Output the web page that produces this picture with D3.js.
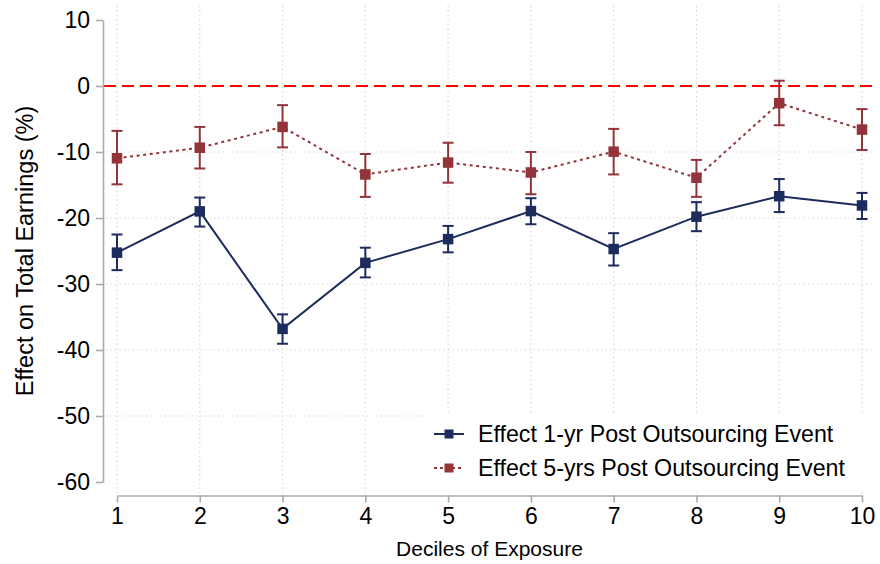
<!DOCTYPE html>
<html>
<head>
<meta charset="utf-8">
<script src="https://cdn.jsdelivr.net/npm/d3@7"></script>
<style>
  html, body { margin: 0; padding: 0; background: #fff; }
  svg { display: block; font-family: "Liberation Sans", Arial, Helvetica, sans-serif; }
</style>
</head>
<body>
<svg id="chart" width="880" height="564"></svg>
<script>
// Deciles of exposure to outsourcing
const deciles = [1, 2, 3, 4, 5, 6, 7, 8, 9, 10];

// Effect 1 year after the outsourcing event (%), with 95% CI bounds
const est1yr = [-25.25, -19.0, -36.8, -26.8, -23.2, -18.95, -24.7, -19.8, -16.7, -18.1];
const lo1yr  = [-27.9, -21.3, -39.05, -29.0, -25.2, -20.95, -27.2, -22.0, -19.1, -20.15];
const hi1yr  = [-22.5, -16.9, -34.6, -24.5, -21.2, -17.0, -22.3, -17.6, -14.1, -16.2];

// Effect 5 years after the outsourcing event (%), with 95% CI bounds
const est5yr = [-10.95, -9.35, -6.2, -13.4, -11.6, -13.1, -9.95, -13.9, -2.6, -6.6];
const lo5yr  = [-14.9, -12.5, -9.3, -16.8, -14.65, -16.4, -13.4, -16.8, -5.95, -9.7];
const hi5yr  = [-6.8, -6.2, -2.9, -10.3, -8.6, -10.0, -6.5, -11.2, 0.8, -3.5];

const yTicks = [10, 0, -10, -20, -30, -40, -50, -60];
const yGrid = [0, -10, -20, -30, -40, -50];

const seriesNames = ["Effect 1-yr Post Outsourcing Event", "Effect 5-yrs Post Outsourcing Event"];

const NAVY = "#1c2c5c";
const MAROON = "#923439";
const AXIS = "#ababab";
const GRID = "#cfcfcf";

const svg = d3.select("#chart");

const x = d3.scaleLinear().domain([1, 10]).range([117, 862]);
const y = d3.scaleLinear().domain([-60, 10]).range([482, 20]);

const plotLeft = 106, plotRight = 876, plotTop = 6, plotBottom = 493;

// Grid
const grid = svg.append("g").attr("class", "grid");
grid.selectAll("line.h").data(yGrid).join("line")
  .attr("x1", plotLeft).attr("x2", plotRight)
  .attr("y1", d => y(d)).attr("y2", d => y(d))
  .attr("stroke", GRID).attr("stroke-width", 1.2)
  .attr("stroke-dasharray", "1.2,3.3");
grid.selectAll("line.v").data(deciles).join("line")
  .attr("x1", d => x(d)).attr("x2", d => x(d))
  .attr("y1", plotTop).attr("y2", plotBottom)
  .attr("stroke", GRID).attr("stroke-width", 1.2)
  .attr("stroke-dasharray", "1.2,3.3");

// Zero reference line
svg.append("line")
  .attr("x1", 104).attr("x2", plotRight)
  .attr("y1", y(0)).attr("y2", y(0))
  .attr("stroke", "#ff0000").attr("stroke-width", 2)
  .attr("stroke-dasharray", "12,6");

// Axes (plain hyphen-minus for negative labels)
const fmt = d => String(d);
const yAxis = d3.axisLeft(y).tickValues(yTicks).tickFormat(fmt).tickSize(7).tickSizeOuter(0).tickPadding(6);
const gy = svg.append("g").attr("transform", "translate(103,0)").call(yAxis);
const xAxis = d3.axisBottom(x).tickValues(deciles).tickFormat(fmt).tickSize(7).tickSizeOuter(0).tickPadding(5);
const gx = svg.append("g").attr("transform", "translate(0,495.5)").call(xAxis);
[gx, gy].forEach(g => {
  g.select(".domain").attr("stroke", AXIS).attr("stroke-width", 1.6);
  g.selectAll(".tick line").attr("stroke", AXIS).attr("stroke-width", 1.6);
  g.selectAll(".tick text").attr("fill", "#000").style("font-size", "23px")
    .style("font-family", "'Liberation Sans', Arial, sans-serif");
});

// Axis titles
svg.append("text")
  .attr("transform", `translate(33,${(y(10) + y(-60)) / 2}) rotate(-90)`)
  .attr("text-anchor", "middle").style("font-size", "23.5px").attr("fill", "#000")
  .text("Effect on Total Earnings (%)");
svg.append("text")
  .attr("x", (x(1) + x(10)) / 2).attr("y", 556)
  .attr("text-anchor", "middle").style("font-size", "21px").attr("fill", "#000")
  .text("Deciles of Exposure");

// Series drawing
function drawSeries(est, lo, hi, color, dash) {
  const g = svg.append("g");
  const pts = deciles.map((d, i) => ({ d, v: est[i], lo: lo[i], hi: hi[i] }));
  g.append("path").datum(pts)
    .attr("fill", "none").attr("stroke", color).attr("stroke-width", 2)
    .attr("stroke-dasharray", dash)
    .attr("d", d3.line().x(p => x(p.d)).y(p => y(p.v)));
  const cap = 5.5;
  g.selectAll("line.ci").data(pts).join("line")
    .attr("x1", p => x(p.d)).attr("x2", p => x(p.d))
    .attr("y1", p => y(p.lo)).attr("y2", p => y(p.hi))
    .attr("stroke", color).attr("stroke-width", 2);
  ["lo", "hi"].forEach(k => {
    g.selectAll("line.cap-" + k).data(pts).join("line")
      .attr("x1", p => x(p.d) - cap).attr("x2", p => x(p.d) + cap)
      .attr("y1", p => y(p[k])).attr("y2", p => y(p[k]))
      .attr("stroke", color).attr("stroke-width", 2);
  });
  const m = 10.5;
  g.selectAll("rect.mk").data(pts).join("rect")
    .attr("x", p => x(p.d) - m / 2).attr("y", p => y(p.v) - m / 2)
    .attr("width", m).attr("height", m).attr("fill", color);
}

drawSeries(est1yr, lo1yr, hi1yr, NAVY, null);
drawSeries(est5yr, lo5yr, hi5yr, MAROON, "3,3.6");

// Legend
const legend = svg.append("g");
legend.append("rect").attr("x", 422).attr("y", 414).attr("width", 454).attr("height", 76).attr("fill", "#fff");
const rows = [
  { name: seriesNames[0], color: NAVY, dash: null, yy: 434 },
  { name: seriesNames[1], color: MAROON, dash: "3,3", yy: 468 }
];
rows.forEach(r => {
  legend.append("line").attr("x1", 434).attr("x2", 464).attr("y1", r.yy).attr("y2", r.yy)
    .attr("stroke", r.color).attr("stroke-width", 2).attr("stroke-dasharray", r.dash);
  legend.append("rect").attr("x", 449 - 4.5).attr("y", r.yy - 4.5).attr("width", 9).attr("height", 9).attr("fill", r.color);
  legend.append("text").attr("x", 478).attr("y", r.yy + 8).style("font-size", "23.2px").attr("fill", "#000").text(r.name);
});
</script>
</body>
</html>
